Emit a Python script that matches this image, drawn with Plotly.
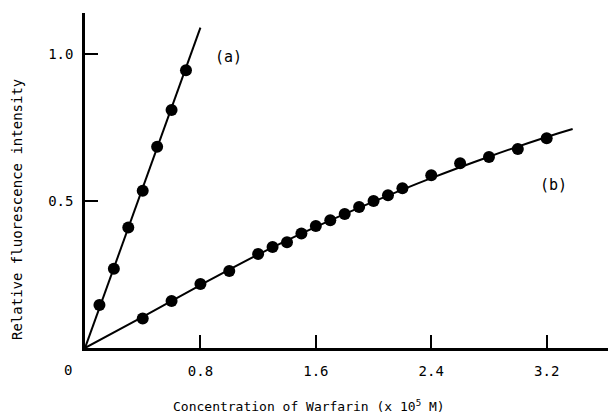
import plotly.graph_objects as go

# Series (a)
a_x = [0.1, 0.2, 0.3, 0.4, 0.5, 0.6, 0.7]
a_y = [0.146, 0.27, 0.41, 0.535, 0.685, 0.81, 0.945]
a_line_x = [0.0, 0.80]
a_line_y = [0.0, 1.09]

# Series (b)
b_x = [0.4, 0.6, 0.8, 1.0, 1.2, 1.3, 1.4, 1.5, 1.6, 1.7, 1.8, 1.9, 2.0, 2.1, 2.2, 2.4, 2.6, 2.8, 3.0, 3.2]
b_y = [0.10, 0.16, 0.218, 0.262, 0.32, 0.344, 0.36, 0.39, 0.415, 0.435, 0.456, 0.48, 0.50, 0.52, 0.544,
       0.588, 0.629, 0.65, 0.677, 0.714]
b_line_x = [0.0, 0.4, 0.8, 1.2, 1.6, 2.0, 2.4, 2.8, 3.2, 3.38]
b_line_y = [0.0, 0.106, 0.214, 0.318, 0.412, 0.498, 0.578, 0.651, 0.718, 0.745]

x_ticks = [0.8, 1.6, 2.4, 3.2]
x_tick_labels = ["0.8", "1.6", "2.4", "3.2"]
y_ticks = [0.5, 1.0]
y_tick_labels = ["0.5", "1.0"]

FONT = "DejaVu Sans Mono"

fig = go.Figure()
fig.add_trace(go.Scatter(x=a_line_x, y=a_line_y, mode="lines",
                         line=dict(color="black", width=2), showlegend=False, cliponaxis=False))
fig.add_trace(go.Scatter(x=b_line_x, y=b_line_y, mode="lines",
                         line=dict(color="black", width=2, shape="spline"), showlegend=False, cliponaxis=False))
fig.add_trace(go.Scatter(x=a_x, y=a_y, mode="markers",
                         marker=dict(color="black", size=12), showlegend=False))
fig.add_trace(go.Scatter(x=b_x, y=b_y, mode="markers",
                         marker=dict(color="black", size=12), showlegend=False))

fig.update_layout(
    width=608, height=416,
    margin=dict(l=85, r=0, t=13, b=68),
    plot_bgcolor="white", paper_bgcolor="white",
    font=dict(family=FONT, color="black", size=14),
    xaxis=dict(range=[0, 3.625], showgrid=False, zeroline=False,
               showline=True, linecolor="black", linewidth=2.5,
               ticks="inside", ticklen=13, tickwidth=2, tickcolor="black",
               tickvals=x_ticks, ticktext=x_tick_labels,
               tickfont=dict(family=FONT, size=14), ticklabelstandoff=8),
    yaxis=dict(range=[0, 1.14], showgrid=False, zeroline=False,
               showline=True, linecolor="black", linewidth=2.5,
               ticks="inside", ticklen=13, tickwidth=2, tickcolor="black",
               tickvals=y_ticks, ticktext=y_tick_labels,
               tickfont=dict(family=FONT, size=14), ticklabelstandoff=6),
    annotations=[
        dict(text="0", xref="paper", yref="paper", x=0, y=0, xshift=-17, yshift=-22,
             xanchor="center", yanchor="middle",
             showarrow=False, font=dict(family=FONT, size=14)),
        dict(text="Concentration of Warfarin (x 10<sup>5</sup> M)", xref="x", yref="paper",
             x=1.556, y=0, yshift=-58, xanchor="center", yanchor="middle",
             showarrow=False, font=dict(family=FONT, size=13)),
        dict(text="Relative fluorescence intensity", xref="paper", yref="paper",
             x=0, y=(348 - 210) / 335, xshift=-68, xanchor="center", yanchor="middle",
             showarrow=False, textangle=-90,
             font=dict(family=FONT, size=14)),
        dict(text="(a)", xref="x", yref="y", x=0.995, y=0.99, showarrow=False,
             font=dict(family=FONT, size=15)),
        dict(text="(b)", xref="x", yref="y", x=3.25, y=0.555, showarrow=False,
             font=dict(family=FONT, size=15)),
    ],
)

fig.write_html("out.html")
